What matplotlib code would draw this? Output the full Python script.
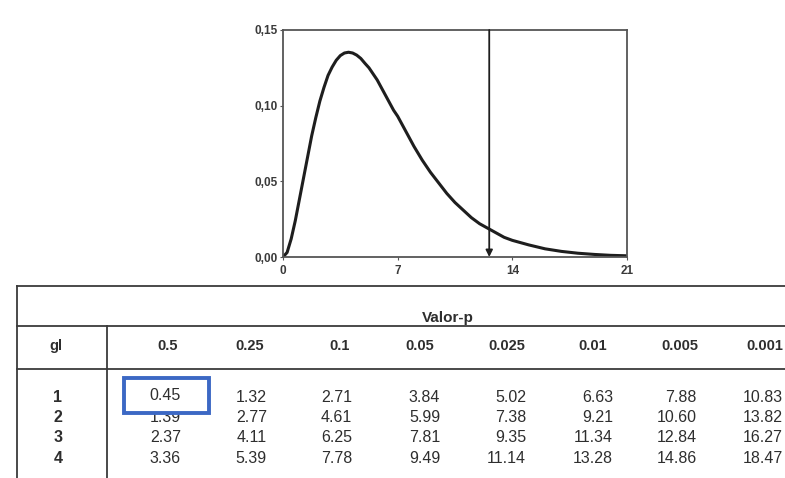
import matplotlib.pyplot as plt
from matplotlib.patches import Rectangle
from matplotlib.ticker import FuncFormatter

plt.rcParams['font.family'] = ['Liberation Sans', 'DejaVu Sans']

# density curve (chi-square, gl = 6)
curve_x = [0, 0.25, 0.5, 0.75, 1, 1.25, 1.5, 1.75, 2, 2.25, 2.5, 2.75, 3, 3.25,
           3.5, 3.75, 4, 4.25, 4.5, 4.75, 5, 5.25, 5.5, 5.75, 6, 6.25, 6.5,
           6.75, 7, 7.25, 7.5, 7.75, 8, 8.5, 9, 9.5, 10, 10.5, 11, 11.5, 12,
           12.5, 13, 13.5, 14, 15, 16, 17, 18, 19, 20, 21]
curve_y = [0.0, 0.003, 0.012, 0.024, 0.038, 0.052, 0.066, 0.080, 0.092, 0.103,
           0.112, 0.120, 0.1255, 0.130, 0.1331, 0.1348, 0.1353, 0.1348, 0.1334,
           0.1312, 0.128, 0.125, 0.121, 0.117, 0.112, 0.107, 0.102, 0.097, 0.093,
           0.088, 0.083, 0.078, 0.073, 0.064, 0.056, 0.049, 0.042, 0.036, 0.031,
           0.026, 0.022, 0.019, 0.016, 0.013, 0.011, 0.008, 0.0054, 0.0037,
           0.0025, 0.0017, 0.0011, 0.0008]
critical_value = 12.59
x_ticks = [0, 7, 14, 21]
y_ticks = [0.00, 0.05, 0.10, 0.15]

# table
p_values = ['0.5', '0.25', '0.1', '0.05', '0.025', '0.01', '0.005', '0.001']
gl_rows = ['1', '2', '3', '4']
table_values = [
    ['0.45', '1.32', '2.71', '3.84', '5.02', '6.63', '7.88', '10.83'],
    ['1.39', '2.77', '4.61', '5.99', '7.38', '9.21', '10.60', '13.82'],
    ['2.37', '4.11', '6.25', '7.81', '9.35', '11.34', '12.84', '16.27'],
    ['3.36', '5.39', '7.78', '9.49', '11.14', '13.28', '14.86', '18.47'],
]

W, H = 785, 478
ink = '#2e2e2e'

fig = plt.figure(figsize=(W / 100, H / 100), dpi=100)

# plot panel
left, right, top, bottom = 283, 627, 30, 257
ax = fig.add_axes([left / W, 1 - bottom / H, (right - left) / W, (bottom - top) / H])
ax.plot(curve_x, curve_y, color='#1e1e1e', lw=2.2, solid_capstyle='round',
        solid_joinstyle='round')
ax.annotate('', xy=(critical_value, 0.0), xytext=(critical_value, 0.15),
            arrowprops=dict(arrowstyle='-|>', color='#1e1e1e', lw=1.3,
                            mutation_scale=10, shrinkA=0, shrinkB=0))
ax.set_xlim(0, 21)
ax.set_ylim(0, 0.15)
ax.set_xticks(x_ticks)
ax.set_yticks(y_ticks)
ax.yaxis.set_major_formatter(FuncFormatter(lambda v, p: f'{v:.2f}'.replace('.', ',')))
ax.tick_params(length=2, width=0.8, color='#555555', labelsize=8.5,
               labelcolor='#3a3a3a', pad=1.5)
ax.tick_params(axis='x', pad=3.5)
for lbl in ax.get_xticklabels() + ax.get_yticklabels():
    lbl.set_fontweight('bold')
for s in ax.spines.values():
    s.set_color('#555555')
    s.set_linewidth(1.3)

# overlay in pixel coordinates for the table
ov = fig.add_axes([0, 0, 1, 1])
ov.set_xlim(0, W)
ov.set_ylim(H, 0)
ov.axis('off')

line_kw = dict(color='#3a3a3a', lw=1.3)
ov.plot([17, W], [286, 286], **line_kw)
ov.plot([17, W], [326, 326], **line_kw)
ov.plot([17, W], [369, 369], **line_kw)
ov.plot([17, 17], [286, H], **line_kw)
ov.plot([107, 107], [326, H], **line_kw)

ov.text(448, 318, 'Valor-p', ha='center', va='center', fontsize=11,
        fontweight='bold', color=ink)
ov.text(56, 346, 'gl', ha='center', va='center', fontsize=10.5,
        fontweight='bold', color=ink)

header_x = [168, 250, 340, 420, 507, 593, 680, 765]
right_x = [181, 267, 352, 440, 526, 613, 697, 783]
row_y = [397, 417.5, 438, 458.5]

for px, label in zip(header_x, p_values):
    ov.text(px, 346, label, ha='center', va='center', fontsize=10.5,
            fontweight='bold', color=ink)

for ry, gl, vals in zip(row_y, gl_rows, table_values):
    ov.text(58, ry, gl, ha='center', va='center', fontsize=11.5,
            fontweight='bold', color=ink)
    for rx, v in zip(right_x, vals):
        ov.text(rx, ry, v, ha='right', va='center', fontsize=11.5, color=ink)

ov.add_patch(Rectangle((124, 378), 85, 35, fill=True, facecolor='white',
                       edgecolor='#3c68c4', lw=2.8, zorder=3))
ov.text(181, 396, table_values[0][0], ha='right', va='center', fontsize=11.5,
        color=ink, zorder=4)

fig.savefig('out.png', dpi=100, facecolor='white')
